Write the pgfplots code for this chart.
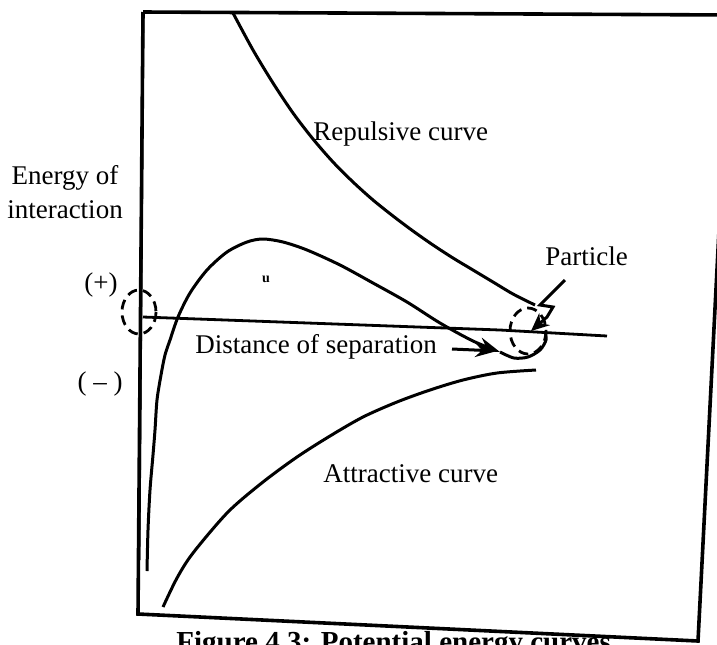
\documentclass[border=0pt]{standalone}
\usepackage{fontspec}
\setmainfont{Liberation Serif}
\usepackage{pgfplots}
\pgfplotsset{compat=1.18}
\usetikzlibrary{arrows.meta}

\begin{document}
\begin{tikzpicture}[lbl/.style={inner sep=0pt, font=\fontsize{13.5}{16}\selectfont}]
\begin{axis}[
    scale only axis,
    width=358.5pt, height=322pt,
    xmin=0, xmax=717,
    ymin=0, ymax=644,
    y dir=reverse,
    hide axis,
    clip=true,
]
% page corners, used for the bounding box below
\path (axis cs:0,644) coordinate (sw) (axis cs:717,0) coordinate (ne);

% outer frame (scanned page is slightly skewed)
\addplot[black, line width=1.8pt] coordinates {
    (143,12) (730,15) (698,641) (138,614) (143,12)
};

% energy axis (vertical) and distance axis (horizontal)
\addplot[black, line width=1.4pt] coordinates {(143,12) (139,560)};
\addplot[black, line width=1.4pt] coordinates {(143,317) (500,330) (607,336)};

% repulsive curve
\addplot[black, line width=1.5pt, smooth] coordinates {
    (233,13) (253,50) (273,83) (293,113) (313,139) (333,162)
    (353,182) (373,200) (393,216) (413,231) (433,245) (453,258)
    (473,270) (493,282) (513,294) (535,305)
};

% attractive curve
\addplot[black, line width=1.5pt, smooth] coordinates {
    (163,607) (177,578) (193,553) (228,512) (263,482) (297,457)
    (330,436) (363,417) (397,402) (430,390) (463,380) (497,373) (536,370)
};

% resultant curve, ending in an arrow at the secondary minimum
\addplot[black, line width=1.5pt, smooth, -{Stealth[length=11pt,width=7pt]}] coordinates {
    (147,571) (148,530) (150,490) (153,455) (155,430) (157,400)
    (161,375) (165,355) (170,340) (178,317) (190,293) (207,270)
    (227,252) (247,242) (263,239) (283,242) (307,250) (340,265)
    (373,283) (407,302) (440,323) (473,341) (500,352)
};

% short arrow from "Distance of separation"
\addplot[black, line width=1.5pt, -{Stealth[length=11pt,width=7pt]}] coordinates {
    (452,349) (497,351)
};

% small well after the arrow
\addplot[black, line width=1.5pt, smooth] coordinates {
    (500,352) (514,358) (528,357) (540,350) (546,340) (545,331)
};

% particle pointer (zig-zag ending in a filled head)
\addplot[black, line width=1.5pt, -{Stealth[length=9pt,width=8pt]}] coordinates {
    (565,280) (540,305) (553,307) (547,317) (531,331)
};

% dashed circles
\draw[black, line width=1.4pt, dash pattern=on 5pt off 3pt]
    (axis cs:139,312) ellipse [x radius=17, y radius=22];
\draw[black, line width=1.4pt, dash pattern=on 5pt off 3pt]
    (axis cs:528,331) ellipse [x radius=18, y radius=23];

% labels
\node[lbl, anchor=base] at (axis cs:65,184) {Energy of};
\node[lbl, anchor=base] at (axis cs:65,218) {interaction};
\node[lbl, anchor=base] at (axis cs:101,291) {(+)};
\node[lbl, anchor=base] at (axis cs:100,390) {( -- )};
\node[lbl, anchor=base west] at (axis cs:313,140) {Repulsive curve};
\node[lbl, anchor=base west] at (axis cs:545,265) {Particle};
\node[lbl, anchor=base west] at (axis cs:195,353) {Distance of separation};
\node[lbl, anchor=base west] at (axis cs:323,482) {Attractive curve};
\node[inner sep=0pt, font=\bfseries\fontsize{7}{8}\selectfont] at (axis cs:266,279) {u};

% caption, cut off by the lower edge of the scan
\node[anchor=base west, inner sep=0pt, font=\bfseries\fontsize{14.5}{17}\selectfont]
    at (axis cs:176,651) {Figure 4.3: Potential energy curves};
\end{axis}
\pgfresetboundingbox
\useasboundingbox (sw) rectangle (ne);
\end{tikzpicture}
\end{document}
